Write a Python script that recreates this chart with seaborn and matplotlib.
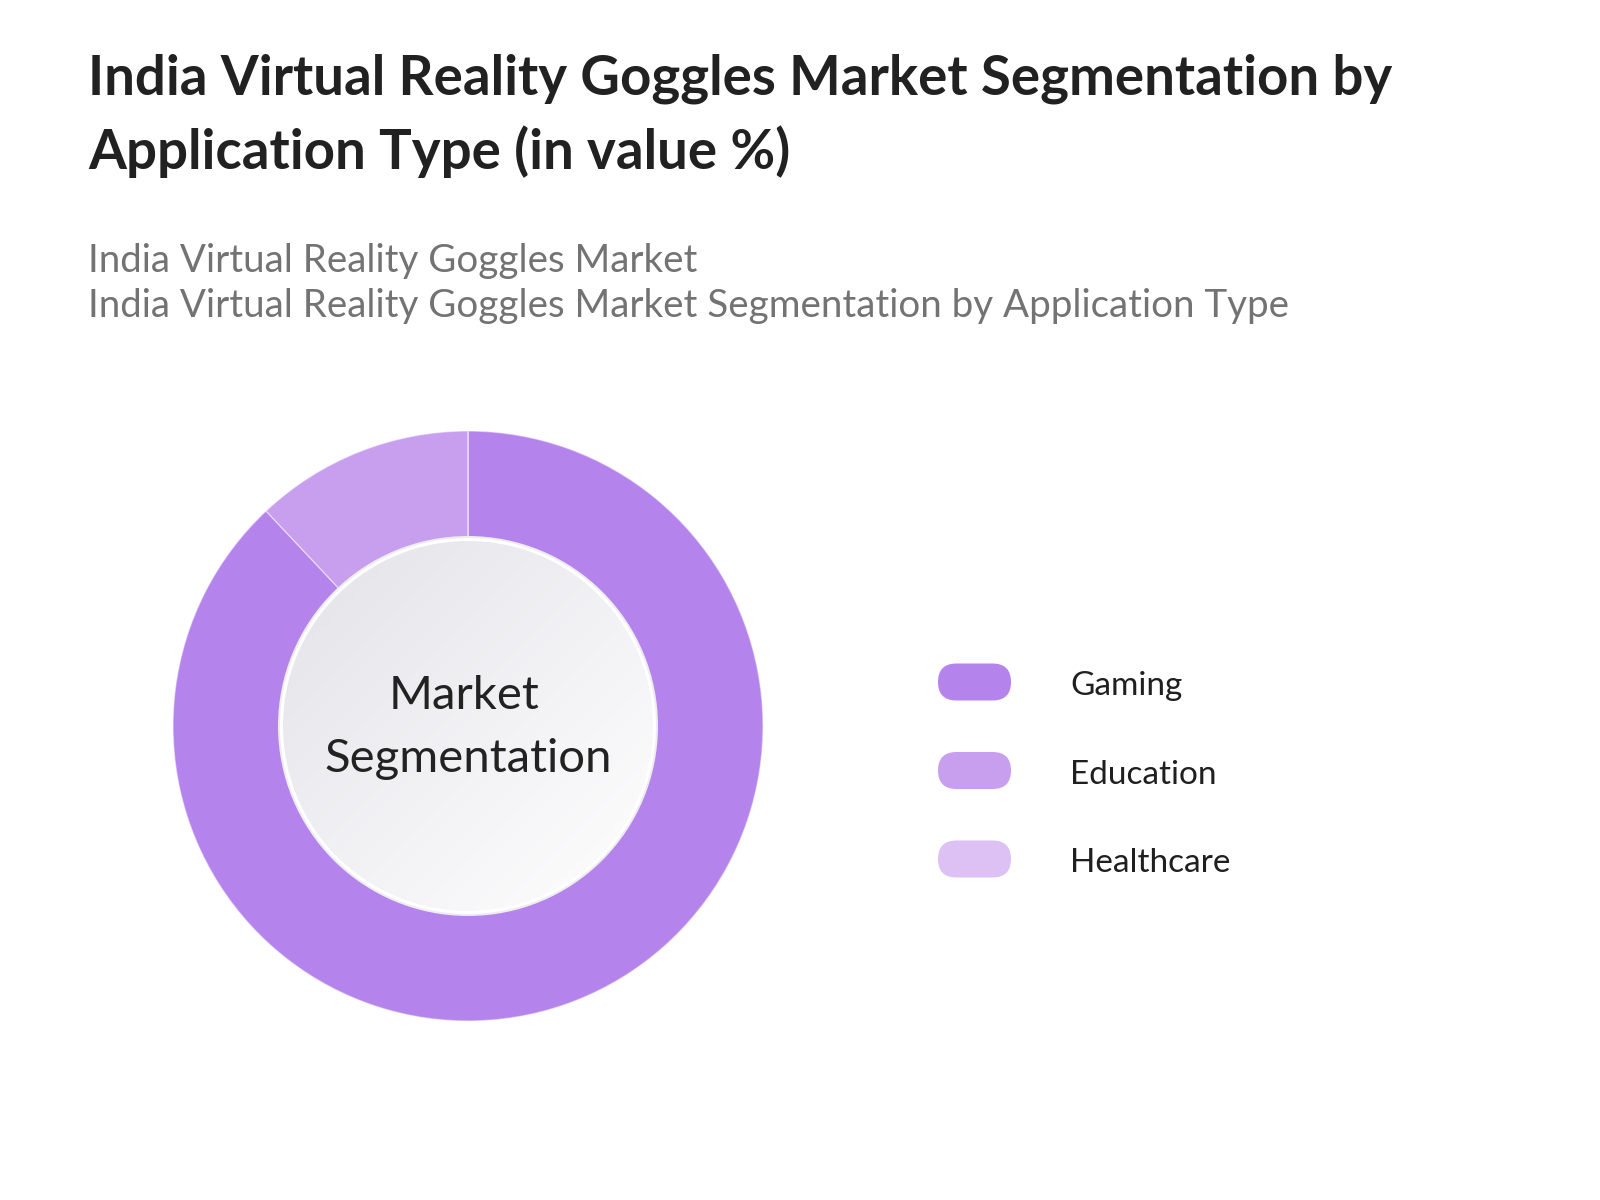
import numpy as np
import matplotlib
matplotlib.use('Agg')
import matplotlib.pyplot as plt
import seaborn as sns
from matplotlib.patches import Circle, FancyBboxPatch

# ── data ──────────────────────────────────────────────────────────────────────
segments = ['Gaming', 'Education', 'Healthcare']
shares = [88.0, 12.0, 0.0]
seg_colors = ['#B583EC', '#C89EEF', '#DDC1F5']

title = 'India Virtual Reality Goggles Market Segmentation by\nApplication Type (in value %)'
subtitle_1 = 'India Virtual Reality Goggles Market'
subtitle_2 = 'India Virtual Reality Goggles Market Segmentation by Application Type'
center_label = ['Market', 'Segmentation']

# ── style ─────────────────────────────────────────────────────────────────────
sns.set_theme(style='white')
plt.rcParams['font.family'] = ['Lato', 'DejaVu Sans']
palette = sns.color_palette(seg_colors)

W, H = 1600, 1200
fig = plt.figure(figsize=(16, 12), dpi=100)
fig.patch.set_facecolor('white')

# canvas axes in pixel coords (origin top-left) for text + legend
canvas = fig.add_axes([0, 0, 1, 1])
canvas.set_xlim(0, W)
canvas.set_ylim(H, 0)
canvas.axis('off')

# title / subtitle
t1, t2 = title.split('\n')
canvas.text(88, 94, t1, fontsize=39.3, fontweight='bold', color='#212121', va='baseline')
canvas.text(88, 169, t2, fontsize=39.3, fontweight='bold', color='#212121', va='baseline')
canvas.text(88, 272, subtitle_1, fontsize=27.7, color='#737373', va='baseline')
canvas.text(88, 317, subtitle_2, fontsize=27.7, color='#737373', va='baseline')

# ── donut ─────────────────────────────────────────────────────────────────────
cx, cy, R, r_in = 468, 726, 295, 188
half = 300
ax = fig.add_axes([(cx - half) / W, (H - cy - half) / H, 2 * half / W, 2 * half / H])
ax.set_xlim(-half, half)
ax.set_ylim(-half, half)
ax.set_aspect('equal')
ax.axis('off')

ax.pie(shares, colors=palette, startangle=90, counterclock=False, radius=R,
       wedgeprops=dict(width=R - r_in + 2, edgecolor=(1, 1, 1, 0.45), linewidth=1))

# soft rim + gradient centre disc (grey top-left -> white bottom-right)
ax.add_patch(Circle((0, 0), r_in + 2, facecolor='#EDEDED', edgecolor='none', zorder=3))
ax.add_patch(Circle((0, 0), r_in, facecolor='white', edgecolor='none', zorder=3))
gx, gy = np.meshgrid(np.linspace(0, 1, 300), np.linspace(0, 1, 300))
grad = (gx + gy) / 2
c0 = np.array([0.890, 0.886, 0.910])
c1 = np.array([1.0, 1.0, 1.0])
img = c0[None, None, :] * (1 - grad[..., None]) + c1[None, None, :] * grad[..., None]
disc = Circle((0, 0), r_in - 3, transform=ax.transData)
im = ax.imshow(img, extent=[-r_in, r_in, -r_in, r_in], origin='upper', zorder=4)
im.set_clip_path(disc)
ax.set_xlim(-half, half)
ax.set_ylim(-half, half)

ax.text(-4, 17, center_label[0], fontsize=34, color='#222222', ha='center', va='baseline', zorder=5)
ax.text(0, -46, center_label[1], fontsize=34, color='#222222', ha='center', va='baseline', zorder=5)

# ── legend ────────────────────────────────────────────────────────────────────
leg_x, leg_y0, leg_dy = 938, 682, 88.5
pill_w, pill_h = 73, 37
for i, (name, col) in enumerate(zip(segments, palette)):
    yc = leg_y0 + i * leg_dy
    canvas.add_patch(FancyBboxPatch((leg_x, yc - pill_h / 2), pill_w, pill_h,
                                    boxstyle=f'round,pad=0,rounding_size={pill_h / 2}',
                                    facecolor=col, edgecolor='none'))
    canvas.text(1070, yc + 13, name, fontsize=24, color='#1f1f1f', va='baseline')

fig.savefig('out.png', dpi=100, facecolor='white')
plt.close(fig)
